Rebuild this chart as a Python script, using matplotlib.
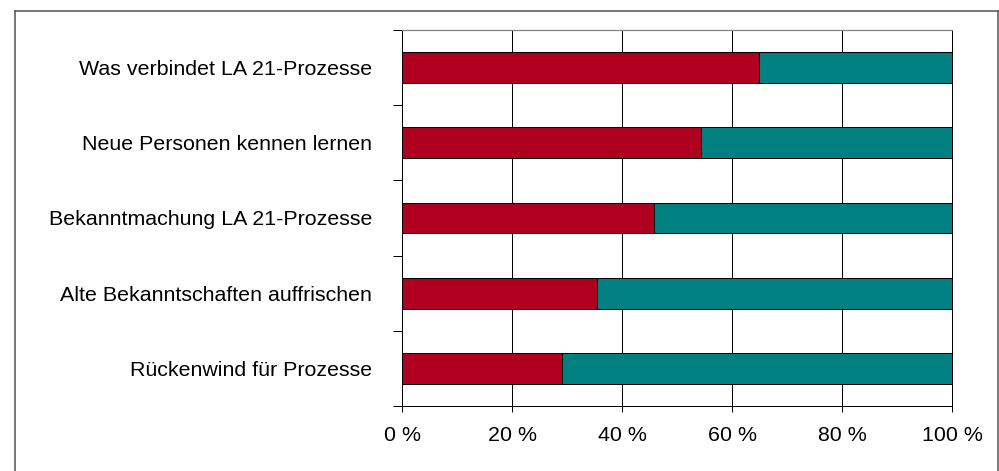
import matplotlib.pyplot as plt
from matplotlib.lines import Line2D

# survey items, top to bottom, and share of the first answer (percent)
items = [
    "Was verbindet LA 21-Prozesse",
    "Neue Personen kennen lernen",
    "Bekanntmachung LA 21-Prozesse",
    "Alte Bekanntschaften auffrischen",
    "Rückenwind für Prozesse",
]
share_yes = [64.9, 54.4, 45.9, 35.4, 29.1]
share_no = [100 - v for v in share_yes]
x_ticks = [0, 20, 40, 60, 80, 100]
x_labels = ["0 %", "20 %", "40 %", "60 %", "80 %", "100 %"]

red = "#b00020"
teal = "#008080"
px = 0.72  # one pixel in points at dpi 100
fs = 15.4

plt.rcParams["font.family"] = ["Liberation Sans", "DejaVu Sans"]

W, H = 999, 471
fig = plt.figure(figsize=(W / 100, H / 100), dpi=100)
ax = fig.add_axes([402 / W, (H - 406) / H, (952 - 402) / W, (406 - 30) / H])

pos = list(range(len(items)))
ax.barh(pos, share_yes, height=0.41, color=red, edgecolor="black",
        linewidth=px, zorder=3)
ax.barh(pos, share_no, left=share_yes, height=0.41, color=teal,
        edgecolor="black", linewidth=px, zorder=3)

ax.set_xlim(0, 100)
ax.set_ylim(len(items) - 0.5, -0.5)

# vertical grid
for v in x_ticks[1:-1]:
    ax.axvline(v, color="black", linewidth=px, zorder=1)

ax.set_xticks(x_ticks)
ax.set_xticklabels(x_labels, fontsize=fs)
ax.tick_params(axis="x", direction="out", length=6 * px, width=px, pad=10)

ax.set_yticks(pos)
ax.set_yticklabels(items, fontsize=fs)
ax.set_yticks([p - 0.5 for p in pos] + [len(items) - 0.5], minor=True)
ax.tick_params(axis="y", which="major", length=0, pad=21.4)
ax.tick_params(axis="y", which="minor", direction="out", length=9 * px,
               width=px)

for side in ["left", "bottom", "right"]:
    ax.spines[side].set_color("black")
    ax.spines[side].set_linewidth(px)
ax.spines["top"].set_color("#808080")
ax.spines["top"].set_linewidth(1.2 * px)

# frame around the whole chart, open at the bottom
frame = dict(color="#505050", linewidth=1.5 * px, transform=fig.transFigure)
fig.add_artist(Line2D([14.5 / W, 14.5 / W], [0, 1 - 10.5 / H], **frame))
fig.add_artist(Line2D([14.5 / W, 998 / W], [1 - 10.5 / H, 1 - 10.5 / H], **frame))
fig.add_artist(Line2D([998 / W, 998 / W], [0, 1 - 10.5 / H], **frame))

fig.savefig("out.png", dpi=100)
